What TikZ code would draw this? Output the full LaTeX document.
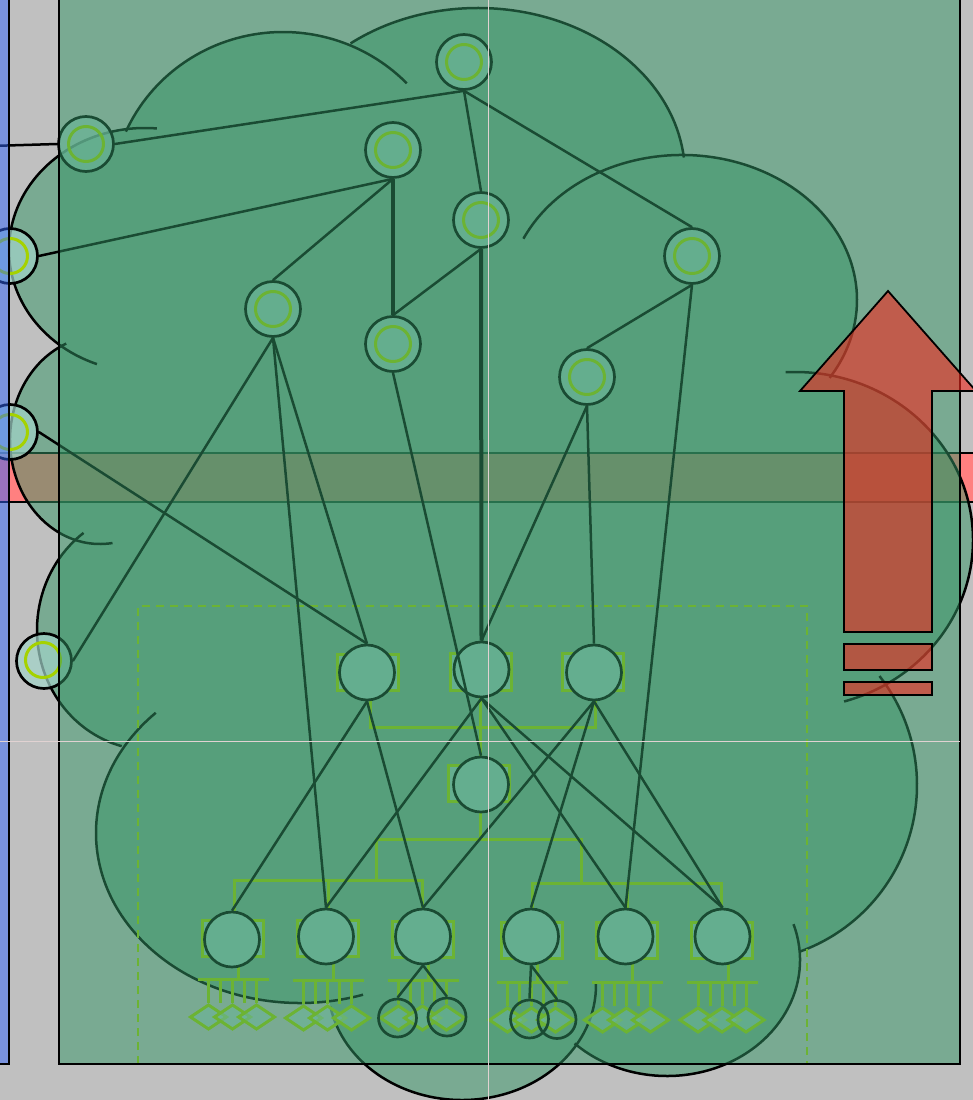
\documentclass[tikz,border=0pt]{standalone}
\definecolor{bgc}{RGB}{192,192,192}
\definecolor{bandc}{RGB}{255,128,128}
\definecolor{greenc}{RGB}{52,150,102}
\definecolor{nodef}{RGB}{162,212,201}
\definecolor{nodex}{RGB}{150,200,185}
\definecolor{limec}{RGB}{165,210,0}
\definecolor{bluec}{RGB}{52,102,250}
\definecolor{arrowc}{RGB}{240,40,30}
\definecolor{hairc}{RGB}{225,210,210}
\tikzset{
  gnode/.style={circle, draw=black, line width=2.7pt, fill=nodef, fill opacity=0.7, minimum size=55pt, inner sep=0pt},
  pnode/.style={circle, draw=black, line width=2.7pt, fill=nodex, minimum size=55pt, inner sep=0pt},
  snode/.style={circle, draw=black, line width=2.7pt, minimum size=38pt, inner sep=0pt},
  ring/.style={draw=limec, line width=3pt},
  conn/.style={draw=black, line width=2.5pt},
  thickconn/.style={draw=black, line width=4pt},
  limeline/.style={draw=limec, line width=3pt},
  prect/.style={draw=limec, line width=3pt, fill=nodex},
  dia/.style={draw=limec, line width=3pt, fill=nodef, fill opacity=0.6},
  cloudline/.style={draw=black, line width=2.5pt},
  dashbox/.style={draw=limec, line width=2.2pt, dash pattern=on 8pt off 6pt},
  redshape/.style={draw=black, line width=1.8pt, fill=arrowc, fill opacity=0.6},
  hair/.style={draw=hairc, line width=0.8pt}
}
\newcommand\puff[6]{\draw[cloudline] (#1,#2) ++(#5:#3 and #4) arc[start angle=#5,end angle=#6,x radius=#3,y radius=#4];}
\begin{document}
\begin{tikzpicture}[x=1pt,y=1pt,yscale=-1]
\useasboundingbox (0,0) rectangle (973,1100);
% background
\fill[bgc] (0,0) rectangle (973,1100);
% pink band
\draw[fill=bandc, line width=2.5pt] (-10,453) rectangle (990,502);
% cloud fill
\begin{scope}[transparency group, opacity=0.5]
\fill[greenc] (283,200) ellipse[x radius=172, y radius=168]
 (478,175) ellipse[x radius=207, y radius=167]
 (682,300) ellipse[x radius=175, y radius=145]
 (795,540) ellipse[x radius=178, y radius=168]
 (740,785) ellipse[x radius=177, y radius=177]
 (667,960) ellipse[x radius=133, y radius=116]
 (462,985) ellipse[x radius=134, y radius=115]
 (300,833) ellipse[x radius=204, y radius=170]
 (150,630) ellipse[x radius=113, y radius=120]
 (100,440) ellipse[x radius=90, y radius=104]
 (145,250) ellipse[x radius=136, y radius=122];
\fill[greenc] (283,200) -- (478,175) -- (682,300) -- (795,540) -- (740,785) -- (667,960) -- (462,985) -- (300,833) -- (150,630) -- (100,440) -- (145,250) -- cycle;
\end{scope}
% cloud outline
\puff{283}{200}{172}{168}{204}{316}
\puff{478}{175}{207}{167}{232}{354}
\puff{682}{300}{175}{145}{205}{392.5}
\puff{795}{540}{178}{168}{267}{434}
\puff{740}{785}{177}{177}{322}{430}
\puff{667}{960}{133}{116}{-18}{134}
\puff{462}{985}{134}{115}{-1}{169}
\puff{300}{833}{204}{170}{225}{72}
\puff{150}{630}{113}{120}{234}{104.5}
\puff{100}{440}{90}{104}{248}{82}
\puff{145}{250}{136}{122}{275}{110.7}
% dashed group box
\draw[dashbox] (138,1064) -- (138,606) -- (807,606) -- (807,1064);
% lime tree (upper)
\draw[limeline] (370,690) -- (370,727) -- (595,727) -- (595,690);
\draw[limeline] (480,690) -- (480,766);
\draw[limeline] (480,801) -- (480,839);
\draw[limeline] (376,880) -- (376,839) -- (581,839) -- (581,883);
\draw[limeline] (234,920) -- (234,880) -- (422,880) -- (422,921);
\draw[limeline] (328,880) -- (328,920);
\draw[limeline] (532,922) -- (532,883) -- (721,883) -- (721,922);
\draw[limeline] (627,883) -- (627,922);
% M and N rects
\draw[prect] (337,654) rectangle (398,690);
\draw[prect] (450,653) rectangle (511,690);
\draw[prect] (562,653) rectangle (623,690);
\draw[prect] (448,765) rectangle (509,801);
% P groups
\foreach \rx/\ry/\by in {232.5/938/979, 327.5/938.5/980, 422.5/939.5/980, 531.5/940/982, 626.5/940/982, 722/940/982} {
  \draw[limeline] (\rx+6,\ry+18) -- (\rx+6,\by);
  \draw[limeline] (\rx-35,\by) -- (\rx+36,\by);
  \foreach \t in {-24,-12,0,12,24} \draw[limeline] (\rx+\t,\by) -- (\rx+\t,\by+24);
  \draw[prect] (\rx-30.5,\ry-18) rectangle (\rx+30.5,\ry+18);
  \foreach \t in {-24,0,24} \draw[dia] (\rx+\t-18,\by+38) -- (\rx+\t,\by+26) -- (\rx+\t+18,\by+38) -- (\rx+\t,\by+50) -- cycle;
}
% upper nodes
\node[gnode] (A) at (464,62) {};
\node[gnode] (B) at (86,144) {};
\node[gnode] (C) at (393,150) {};
\node[gnode] (D) at (481,220) {};
\node[gnode] (E) at (692,256) {};
\node[gnode] (F) at (273,309) {};
\node[gnode] (G) at (393,344) {};
\node[gnode] (H) at (587,377) {};
\node[gnode] (L1) at (10,256) {};
\node[gnode] (L2) at (10,432) {};
\node[gnode] (L3) at (44,661) {};
\foreach \n in {A,B,C,D,E,F,G,H,L1,L2} \draw[ring] (\n) circle[radius=17.5];
\draw[ring] (43,660) circle[radius=17.5];
% lower nodes
\node[pnode] (M1) at (367,672.5) {};
\node[pnode] (M2) at (481.5,669.5) {};
\node[pnode] (M3) at (594,672.5) {};
\node[pnode] (N) at (481,784.5) {};
\node[pnode] (P1) at (232,939.5) {};
\node[pnode] (P2) at (326,936.5) {};
\node[pnode] (P3) at (423,936.5) {};
\node[pnode] (P4) at (531,936.5) {};
\node[pnode] (P5) at (625.5,936.5) {};
\node[pnode] (P6) at (722.5,936.5) {};
\node[snode] (S1) at (397.5,1018) {};
\node[snode] (S2) at (447,1017) {};
\node[snode] (S3) at (529.5,1019) {};
\node[snode] (S4) at (557,1019.5) {};
\coordinate (ext) at (-10,146);
% connectors
\draw[conn] (ext) -- (B.west);
\draw[conn] (A.south) -- (B.east);
\draw[conn] (A.south) -- (D.north);
\draw[conn] (A.south) -- (E.north);
\draw[conn] (C.south) -- (L1.east);
\draw[conn] (C.south) -- (F.north);
\draw[thickconn] (C.south) -- (G.north);
\draw[conn] (D.south) -- (G.north);
\draw[thickconn] (D.south) -- (M2.north);
\draw[conn] (E.south) -- (H.north);
\draw[conn] (E.south) -- (P5.north);
\draw[conn] (F.south) -- (L3.east);
\draw[conn] (F.south) -- (M1.north);
\draw[conn] (F.south) -- (P2.north);
\draw[conn] (G.south) -- (N.north);
\draw[conn] (H.south) -- (M2.north);
\draw[conn] (H.south) -- (M3.north);
\draw[conn] (L2.east) -- (M1.north);
\draw[conn] (M1.south) -- (P1.north);
\draw[conn] (M1.south) -- (P3.north);
\draw[conn] (M2.south) -- (P2.north);
\draw[conn] (M2.south) -- (P5.north);
\draw[conn] (M2.south) -- (P6.north);
\draw[conn] (M3.south) -- (P3.north);
\draw[conn] (M3.south) -- (P4.north);
\draw[conn] (M3.south) -- (P6.north);
\draw[conn] (P3.south) -- (S1.north);
\draw[conn] (P3.south) -- (S2.north);
\draw[conn] (P4.south) -- (S3.north);
\draw[conn] (P4.south) -- (S4.north);
% big translucent rectangle
\fill[greenc, fill opacity=0.5] (59,-10) rectangle (960,1064);
\draw[line width=2.5pt] (59,-10) rectangle (960,1064);
% blue strip
\draw[line width=2.5pt, fill=bluec, fill opacity=0.5] (-20,-20) rectangle (9,1064);
% red arrow and bars
\draw[redshape] (888,291) -- (976,391) -- (932,391) -- (932,632) -- (844,632) -- (844,391) -- (800,391) -- cycle;
\draw[redshape] (844,644) rectangle (932,670);
\draw[redshape] (844,682) rectangle (932,695);
% hairlines
\draw[hair] (488,0) -- (488,1100);
\draw[hair] (0,741) -- (960,741);
\end{tikzpicture}
\end{document}
